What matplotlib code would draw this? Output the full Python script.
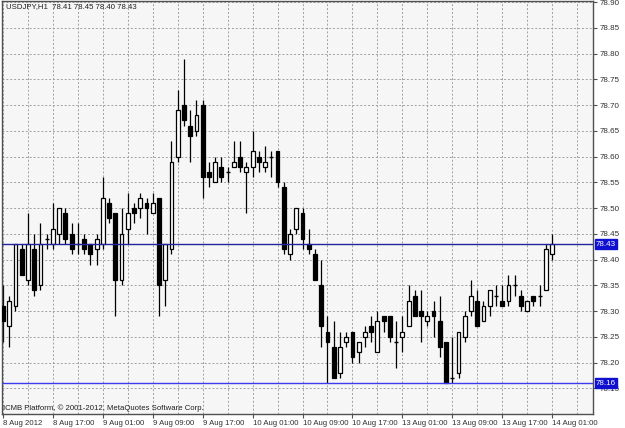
import matplotlib.pyplot as plt
import numpy as np

# USDJPY H1 bars, 8 Aug 09:00 .. 14 Aug 01:00
opens = [78.31, 78.27, 78.31, 78.42, 78.36, 78.42, 78.35, 78.44, 78.43, 78.45,
         78.49, 78.45, 78.43, 78.44, 78.43, 78.42, 78.43, 78.51, 78.49, 78.36,
         78.46, 78.50, 78.50, 78.51, 78.49, 78.52, 78.36, 78.42, 78.60, 78.70,
         78.66, 78.65, 78.70, 78.57, 78.55, 78.58, 78.57, 78.58, 78.60, 78.57,
         78.58, 78.60, 78.58, 78.60, 78.61, 78.54, 78.41, 78.46, 78.49, 78.43,
         78.41, 78.35, 78.26, 78.23, 78.18, 78.24, 78.26, 78.22, 78.25, 78.27,
         78.22, 78.29, 78.29, 78.24, 78.25, 78.27, 78.33, 78.30, 78.28, 78.30,
         78.28, 78.24, 78.17, 78.18, 78.25, 78.30, 78.32, 78.28, 78.31, 78.33,
         78.32, 78.32, 78.35, 78.33, 78.30, 78.33, 78.33, 78.34, 78.41]
highs = [78.35, 78.33, 78.43, 78.43, 78.49, 78.45, 78.47, 78.45, 78.51, 78.50,
         78.50, 78.47, 78.47, 78.45, 78.43, 78.45, 78.56, 78.52, 78.49, 78.50,
         78.53, 78.51, 78.53, 78.52, 78.53, 78.52, 78.43, 78.63, 78.73, 78.79,
         78.69, 78.71, 78.71, 78.59, 78.60, 78.60, 78.58, 78.63, 78.63, 78.59,
         78.65, 78.61, 78.62, 78.61, 78.61, 78.55, 78.46, 78.50, 78.50, 78.46,
         78.42, 78.40, 78.29, 78.28, 78.26, 78.26, 78.26, 78.24, 78.27, 78.29,
         78.30, 78.29, 78.29, 78.28, 78.29, 78.35, 78.34, 78.34, 78.30, 78.32,
         78.33, 78.24, 78.25, 78.26, 78.30, 78.36, 78.34, 78.32, 78.34, 78.35,
         78.35, 78.37, 78.37, 78.34, 78.32, 78.33, 78.35, 78.43, 78.45]
lows = [78.24, 78.23, 78.30, 78.37, 78.35, 78.33, 78.34, 78.42, 78.42, 78.43,
        78.43, 78.41, 78.41, 78.41, 78.39, 78.39, 78.42, 78.47, 78.29, 78.35,
        78.43, 78.47, 78.48, 78.45, 78.49, 78.29, 78.31, 78.41, 78.59, 78.66,
        78.59, 78.64, 78.52, 78.54, 78.55, 78.55, 78.55, 78.58, 78.57, 78.49,
        78.56, 78.57, 78.57, 78.56, 78.54, 78.41, 78.40, 78.45, 78.42, 78.41,
        78.36, 78.23, 78.16, 78.17, 78.17, 78.23, 78.20, 78.20, 78.23, 78.24,
        78.22, 78.26, 78.24, 78.19, 78.22, 78.27, 78.29, 78.24, 78.27, 78.25,
        78.21, 78.16, 78.16, 78.17, 78.24, 78.29, 78.27, 78.28, 78.29, 78.31,
        78.31, 78.31, 78.33, 78.30, 78.30, 78.31, 78.31, 78.34, 78.40]
closes = [78.28, 78.32, 78.43, 78.37, 78.43, 78.34, 78.43, 78.44, 78.46, 78.50,
          78.44, 78.42, 78.43, 78.42, 78.41, 78.44, 78.52, 78.48, 78.36, 78.45,
          78.49, 78.49, 78.52, 78.50, 78.51, 78.35, 78.43, 78.59, 78.69, 78.67,
          78.64, 78.68, 78.56, 78.56, 78.59, 78.56, 78.57, 78.59, 78.58, 78.58,
          78.61, 78.59, 78.59, 78.60, 78.55, 78.42, 78.45, 78.50, 78.44, 78.42,
          78.36, 78.27, 78.24, 78.17, 78.23, 78.25, 78.21, 78.24, 78.26, 78.26,
          78.28, 78.28, 78.25, 78.24, 78.26, 78.32, 78.29, 78.29, 78.29, 78.29,
          78.23, 78.16, 78.17, 78.26, 78.29, 78.33, 78.27, 78.31, 78.34, 78.33,
          78.31, 78.35, 78.35, 78.31, 78.32, 78.32, 78.33, 78.42, 78.43]

tick_labels = ["8 Aug 2012", "8 Aug 17:00", "9 Aug 01:00", "9 Aug 09:00",
               "9 Aug 17:00", "10 Aug 01:00", "10 Aug 09:00", "10 Aug 17:00",
               "13 Aug 01:00", "13 Aug 09:00", "13 Aug 17:00", "14 Aug 01:00"]
level_lines = [78.43, 78.16]
level_colors = ["#24249a", "#3b3bf0"]
header = "USDJPY,H1  78.41 78.45 78.40 78.43"
footer = "ICMB Platform, \u00a9 2001-2012, MetaQuotes Software Corp."

plt.rcParams['font.family'] = ['Liberation Sans', 'DejaVu Sans']
fs = 5.6

o = np.array(opens)
h = np.array(highs)
l = np.array(lows)
c = np.array(closes)
x = np.arange(len(o))

fig = plt.figure(figsize=(6.25, 4.28), dpi=100)
ax = fig.add_axes([2/625, 14/428, 591/625, 413/428])
ax.set_facecolor("#f6f6f6")

# wicks
ax.vlines(x, l, h, color="black", linewidth=0.9, zorder=2)

up = c > o
down = c < o
flat = c == o
w = 0.62
ax.bar(x[up], (c - o)[up], bottom=o[up], width=w, color="white",
       edgecolor="black", linewidth=0.9, zorder=3)
ax.bar(x[down], (o - c)[down], bottom=c[down], width=w, color="black",
       edgecolor="black", linewidth=0.9, zorder=3)
ax.hlines(o[flat], x[flat] - w/2, x[flat] + w/2, color="black", linewidth=1.0, zorder=3)

# horizontal levels + price tags
for lvl, col in zip(level_lines, level_colors):
    ax.axhline(lvl, color=col, linewidth=1.0, zorder=4)
    ax.annotate("%.2f" % lvl, xy=(1.0, lvl), xycoords=('axes fraction', 'data'),
                xytext=(2, 0), textcoords='offset points', ha='left', va='center',
                fontsize=fs + 0.2, color="white", annotation_clip=False, zorder=6,
                bbox=dict(boxstyle='square,pad=0.15', fc="#1010d0", ec="#1010d0"))

ax.set_xlim(-0.16, 94.55)
ax.set_ylim(78.10, 78.902)

ax.set_xticks(np.arange(0, 8 * len(tick_labels), 8))
ax.set_xticklabels(tick_labels, ha='left', fontsize=fs, color="#303030")
ax.set_xticks(np.arange(4, 95, 8), minor=True)
ax.yaxis.tick_right()
ax.set_yticks(np.arange(78.15, 78.91, 0.05))
ax.set_yticklabels(["%.2f" % v for v in np.arange(78.15, 78.91, 0.05)],
                   fontsize=fs + 0.2, color="#303030")
ax.tick_params(axis='both', which='major', length=3, width=0.8, pad=2, color="#505050")
ax.tick_params(axis='x', which='minor', length=0)
ax.tick_params(axis='x', pad=1)

ax.grid(True, which='both', axis='x', color="#a0a0a0", linestyle=(0, (2, 2)), linewidth=0.7)
ax.grid(True, which='major', axis='y', color="#a0a0a0", linestyle=(0, (2, 2)), linewidth=0.7)
ax.set_axisbelow(True)

for s in ax.spines.values():
    s.set_color("#505050")
    s.set_linewidth(1.0)

ax.text(0.006, 0.995, header, transform=ax.transAxes, ha='left', va='top',
        fontsize=fs, color="#202020", zorder=5)
ax.text(0.002, 0.004, footer, transform=ax.transAxes, ha='left', va='bottom',
        fontsize=fs, color="#202020", zorder=5)

fig.savefig("out.png", dpi=100)
